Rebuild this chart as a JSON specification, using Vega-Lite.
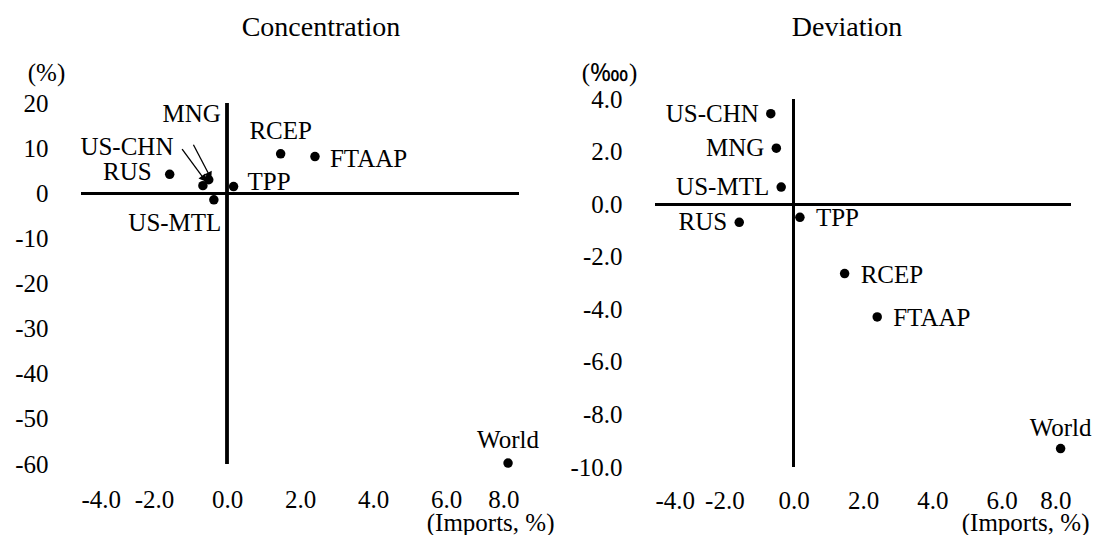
{
  "$schema": "https://vega.github.io/schema/vega-lite/v6.json",
  "padding": {"left": 14, "top": 14, "right": 0, "bottom": 0},
  "background": "white",
  "config": {
    "font": "Liberation Serif",
    "view": {"stroke": null},
    "axis": {"labelFont": "Liberation Serif", "labelFontSize": 25, "labelColor": "black", "titleFont": "Liberation Serif", "titleFontSize": 25, "titleFontWeight": "normal", "titleColor": "black", "domain": false, "ticks": false, "grid": false},
    "title": {"font": "Liberation Serif", "fontSize": 28, "fontWeight": "normal", "color": "black"},
    "mark": {"font": "Liberation Serif"},
    "text": {"font": "Liberation Serif", "fontSize": 25, "color": "black", "baseline": "middle"}
  },
  "datasets": {
    "pts": [
      {"name": "RUS", "imports": -1.57, "conc": 4.2, "dev": -0.69},
      {"name": "US-CHN", "imports": -0.66, "conc": 1.7, "dev": 3.44},
      {"name": "MNG", "imports": -0.5, "conc": 3.0, "dev": 2.13},
      {"name": "US-MTL", "imports": -0.36, "conc": -1.45, "dev": 0.65},
      {"name": "TPP", "imports": 0.18, "conc": 1.5, "dev": -0.5},
      {"name": "RCEP", "imports": 1.47, "conc": 8.75, "dev": -2.64},
      {"name": "FTAAP", "imports": 2.41, "conc": 8.15, "dev": -4.29},
      {"name": "World", "imports": 7.7, "conc": -59.8, "dev": -9.3}
    ],
    "arrows": [
      {"name": "US-CHN", "x": -1.23, "y": 9.8, "x2": -0.65, "y2": 3.4},
      {"name": "MNG", "x": -0.92, "y": 10.75, "x2": -0.49, "y2": 4.1}
    ]
  },
  "bounds": "flush",
  "spacing": 136,
  "hconcat": [
    {
      "width": 438,
      "height": 365,
      "title": {"text": "Concentration", "dx": 21, "offset": 18, "font": "Liberation Serif"},
      "data": {"name": "pts"},
      "layer": [
        {
          "mark": {"type": "rule", "color": "black", "strokeWidth": 2.5},
          "encoding": {"x": {"datum": -4, "type": "quantitative"}, "x2": {"datum": 8}, "y": {"datum": 0, "type": "quantitative"}}
        },
        {
          "mark": {"type": "rule", "color": "black", "strokeWidth": 2.5},
          "encoding": {"x": {"datum": 0, "type": "quantitative"}, "y": {"datum": -60, "type": "quantitative"}, "y2": {"datum": 20}}
        },
        {
          "mark": {"type": "circle", "color": "black", "opacity": 1, "size": 90},
          "encoding": {
            "x": {"field": "imports", "type": "quantitative", "scale": {"domain": [-4, 8], "nice": false, "zero": false},
              "axis": {"values": [-4, -2, 0, 2, 4, 6, 8], "format": ".1f", "labelExpr": "replace(datum.label, '−', '-')", "labelFont": "Liberation Serif", "labelPadding": 23, "title": "(Imports, %)", "titleX": 473, "titleY": 58, "titleAlign": "right", "titleBaseline": "middle", "titleAnchor": null}},
            "y": {"field": "conc", "type": "quantitative", "scale": {"domain": [-60, 20.9], "nice": false, "zero": false},
              "axis": {"values": [20, 10, 0, -10, -20, -30, -40, -50, -60], "format": "d", "labelExpr": "replace(datum.label, '−', '-')", "labelFont": "Liberation Serif", "labelPadding": 33, "title": "(%)", "titleAngle": 0, "titleX": -35, "titleY": -27, "titleAlign": "center", "titleBaseline": "middle", "titleAnchor": null}}
          }
        },
        {
          "transform": [{"filter": {"field": "name", "oneOf": ["RUS"]}}],
          "mark": {"type": "text", "font": "Liberation Serif", "align": "right", "dx": -18, "dy": -2},
          "encoding": {"x": {"field": "imports", "type": "quantitative"}, "y": {"field": "conc", "type": "quantitative"}, "text": {"field": "name"}}
        },
        {
          "transform": [{"filter": {"field": "name", "oneOf": ["US-CHN"]}}],
          "mark": {"type": "text", "font": "Liberation Serif", "align": "center", "dx": -76, "dy": -39},
          "encoding": {"x": {"field": "imports", "type": "quantitative"}, "y": {"field": "conc", "type": "quantitative"}, "text": {"field": "name"}}
        },
        {
          "transform": [{"filter": {"field": "name", "oneOf": ["MNG"]}}],
          "mark": {"type": "text", "font": "Liberation Serif", "align": "center", "dx": -17, "dy": -66},
          "encoding": {"x": {"field": "imports", "type": "quantitative"}, "y": {"field": "conc", "type": "quantitative"}, "text": {"field": "name"}}
        },
        {
          "transform": [{"filter": {"field": "name", "oneOf": ["US-MTL"]}}],
          "mark": {"type": "text", "font": "Liberation Serif", "align": "center", "dx": -39, "dy": 23},
          "encoding": {"x": {"field": "imports", "type": "quantitative"}, "y": {"field": "conc", "type": "quantitative"}, "text": {"field": "name"}}
        },
        {
          "transform": [{"filter": {"field": "name", "oneOf": ["TPP"]}}],
          "mark": {"type": "text", "font": "Liberation Serif", "align": "left", "dx": 14, "dy": -5},
          "encoding": {"x": {"field": "imports", "type": "quantitative"}, "y": {"field": "conc", "type": "quantitative"}, "text": {"field": "name"}}
        },
        {
          "transform": [{"filter": {"field": "name", "oneOf": ["FTAAP"]}}],
          "mark": {"type": "text", "font": "Liberation Serif", "align": "left", "dx": 15, "dy": 2},
          "encoding": {"x": {"field": "imports", "type": "quantitative"}, "y": {"field": "conc", "type": "quantitative"}, "text": {"field": "name"}}
        },
        {
          "transform": [{"filter": {"field": "name", "oneOf": ["RCEP", "World"]}}],
          "mark": {"type": "text", "font": "Liberation Serif", "align": "center", "dy": -23},
          "encoding": {"x": {"field": "imports", "type": "quantitative"}, "y": {"field": "conc", "type": "quantitative"}, "text": {"field": "name"}}
        },
        {
          "data": {"name": "arrows"},
          "mark": {"type": "rule", "color": "black", "strokeWidth": 1.3},
          "encoding": {"x": {"field": "x", "type": "quantitative"}, "y": {"field": "y", "type": "quantitative"}, "x2": {"field": "x2"}, "y2": {"field": "y2"}}
        },
        {
          "data": {"name": "arrows"},
          "transform": [{"filter": {"field": "name", "equal": "US-CHN"}}],
          "mark": {"type": "point", "shape": "triangle", "filled": true, "color": "black", "opacity": 1, "size": 70, "angle": 143},
          "encoding": {"x": {"field": "x2", "type": "quantitative"}, "y": {"field": "y2", "type": "quantitative"}}
        },
        {
          "data": {"name": "arrows"},
          "transform": [{"filter": {"field": "name", "equal": "MNG"}}],
          "mark": {"type": "point", "shape": "triangle", "filled": true, "color": "black", "opacity": 1, "size": 70, "angle": 153},
          "encoding": {"x": {"field": "x2", "type": "quantitative"}, "y": {"field": "y2", "type": "quantitative"}}
        }
      ]
    },
    {
      "width": 416,
      "height": 368,
      "title": {"text": "Deviation", "dx": -16, "offset": 18, "font": "Liberation Serif"},
      "data": {"name": "pts"},
      "layer": [
        {
          "mark": {"type": "rule", "color": "black", "strokeWidth": 2.5},
          "encoding": {"x": {"datum": -4, "type": "quantitative"}, "x2": {"datum": 8}, "y": {"datum": 0, "type": "quantitative"}}
        },
        {
          "mark": {"type": "rule", "color": "black", "strokeWidth": 2.5},
          "encoding": {"x": {"datum": 0, "type": "quantitative"}, "y": {"datum": -10, "type": "quantitative"}, "y2": {"datum": 4}}
        },
        {
          "mark": {"type": "circle", "color": "black", "opacity": 1, "size": 90},
          "encoding": {
            "x": {"field": "imports", "type": "quantitative", "scale": {"domain": [-4, 8], "nice": false, "zero": false},
              "axis": {"values": [-4, -2, 0, 2, 4, 6, 8], "format": ".1f", "labelExpr": "replace(datum.label, '−', '-')", "labelFont": "Liberation Serif", "labelPadding": 21, "title": "(Imports, %)", "titleX": 434, "titleY": 55, "titleAlign": "right", "titleBaseline": "middle", "titleAnchor": null}},
            "y": {"field": "dev", "type": "quantitative", "scale": {"domain": [-10, 4], "nice": false, "zero": false},
              "axis": {"values": [4, 2, 0, -2, -4, -6, -8, -10], "format": ".1f", "labelExpr": "replace(datum.label, '−', '-')", "labelFont": "Liberation Serif", "labelPadding": 33, "title": "(‱)", "titleAngle": 0, "titleX": -46, "titleY": -27, "titleAlign": "center", "titleBaseline": "middle", "titleAnchor": null}}
          }
        },
        {
          "transform": [{"filter": {"field": "name", "oneOf": ["RUS", "US-CHN", "MNG", "US-MTL"]}}],
          "mark": {"type": "text", "font": "Liberation Serif", "align": "right", "dx": -12},
          "encoding": {"x": {"field": "imports", "type": "quantitative"}, "y": {"field": "dev", "type": "quantitative"}, "text": {"field": "name"}}
        },
        {
          "transform": [{"filter": {"field": "name", "oneOf": ["TPP", "RCEP", "FTAAP"]}}],
          "mark": {"type": "text", "font": "Liberation Serif", "align": "left", "dx": 16, "dy": 1},
          "encoding": {"x": {"field": "imports", "type": "quantitative"}, "y": {"field": "dev", "type": "quantitative"}, "text": {"field": "name"}}
        },
        {
          "transform": [{"filter": {"field": "name", "oneOf": ["World"]}}],
          "mark": {"type": "text", "font": "Liberation Serif", "align": "center", "dy": -21},
          "encoding": {"x": {"field": "imports", "type": "quantitative"}, "y": {"field": "dev", "type": "quantitative"}, "text": {"field": "name"}}
        }
      ]
    }
  ]
}
